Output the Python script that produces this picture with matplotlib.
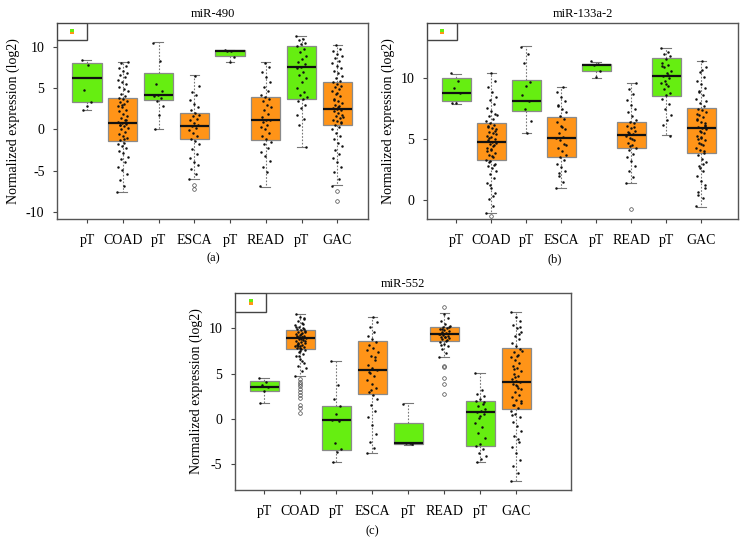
import matplotlib
matplotlib.use("Agg")
import matplotlib.pyplot as plt
from matplotlib.patches import Rectangle

plt.rcParams["font.family"] = ["Liberation Serif", "DejaVu Serif"]
plt.rcParams["axes.unicode_minus"] = False

CATS = ["pT", "COAD", "pT", "ESCA", "pT", "READ", "pT", "GAC"]
GREEN = "#66EE11"
ORANGE = "#FF9418"
FACES = [GREEN, ORANGE] * 4

# ---- miR-490 ----
A_MED = [6.25, 0.81, 4.19, 0.44, 9.52, 1.13, 7.58, 2.50]
A_Q1 = [3.27, -1.45, 3.55, -1.21, 8.87, -1.29, 3.67, 0.52]
A_Q3 = [8.10, 3.87, 6.90, 2.02, 9.60, 3.95, 10.12, 5.73]
A_LO = [2.38, -7.58, 0.08, -5.97, 8.23, -6.94, -2.10, -6.77]
A_HI = [8.43, 8.23, 10.56, 6.57, 9.68, 8.15, 11.33, 10.24]
A_OUT = [[], [], [], [-6.7, -7.2], [], [], [], [-7.46, -8.7]]
A_POINTS = [
    [8.4, 7.8, 4.8, 3.3, 2.9, 2.4],
    [-7.6, -6.9, -6.1, -5.4, -4.9, -4.5, -4.0, -3.6, -3.3, -2.9, -2.6, -2.3, -2.0, -1.8, -1.6,
     -1.3, -1.0, -0.8, -0.5, -0.3, 0.0, 0.2, 0.4, 0.6, 0.7, 0.8, 0.9, 1.1, 1.4, 1.6, 1.9, 2.2,
     2.4, 2.7, 2.9, 3.1, 3.3, 3.5, 3.7, 3.8, 4.0, 4.3, 4.6, 4.9, 5.2, 5.5, 5.8, 6.0, 6.3, 6.6,
     6.9, 7.1, 7.4, 7.7, 8.0, 8.2, -1.1, 0.5, 1.2, 3.0],
    [10.5, 8.3, 5.5, 4.6, 4.2, 4.1, 3.8, 3.5, 2.8, 1.7, 0.1],
    [-6.0, -5.4, -4.8, -4.3, -3.9, -3.5, -3.0, -2.4, -1.8, -1.4, -1.1, -0.8, -0.4, -0.1, 0.2,
     0.4, 0.5, 0.8, 1.1, 1.3, 1.6, 1.8, 2.0, 2.3, 2.7, 3.1, 3.6, 4.2, 4.5, 5.3, 6.5],
    [9.6, 9.5, 9.5, 8.8, 8.2],
    [-6.9, -5.2, -4.5, -3.8, -3.2, -2.7, -2.2, -1.8, -1.5, -1.2, -0.8, -0.4, 0.0, 0.3, 0.6,
     0.9, 1.1, 1.2, 1.5, 1.9, 2.3, 2.7, 3.0, 3.4, 3.7, 3.9, 4.2, 4.7, 5.2, 5.8, 6.4, 7.0, 7.6, 8.1],
    [11.3, 11.0, 10.8, 10.5, 10.3, 10.1, 9.8, 9.4, 8.9, 8.5, 8.2, 7.9, 7.6, 7.5, 7.0, 6.6,
     6.2, 5.8, 5.0, 4.5, 4.2, 3.9, 3.7, 3.4, 3.0, 2.6, 1.8, 1.3, 0.5, -2.1],
    [-6.8, -6.0, -5.2, -4.6, -4.0, -3.5, -3.0, -2.5, -2.0, -1.6, -1.2, -0.8, -0.4, 0.0, 0.3,
     0.6, 0.8, 1.0, 1.2, 1.4, 1.6, 1.8, 2.0, 2.2, 2.4, 2.5, 2.6, 2.8, 3.0, 3.2, 3.4, 3.7, 4.0,
     4.3, 4.6, 4.9, 5.1, 5.3, 5.5, 5.7, 5.9, 6.2, 6.5, 6.8, 7.1, 7.4, 7.7, 8.0, 8.3, 8.6, 8.9,
     9.2, 9.5, 9.8, 10.2, 1.5, 2.7, 3.6, 0.9, 4.4],
]

# ---- miR-133a-2 ----
B_MED = [8.79, 4.77, 8.11, 5.12, 11.10, 5.37, 10.22, 5.89]
B_Q1 = [8.11, 3.26, 7.34, 3.53, 10.58, 4.27, 8.52, 3.89]
B_Q3 = [10.00, 6.30, 9.86, 6.82, 11.15, 6.44, 11.67, 7.53]
B_LO = [7.92, -1.10, 5.51, 0.99, 10.05, 1.42, 5.32, -0.55]
B_HI = [10.36, 10.44, 12.66, 9.29, 11.37, 9.59, 12.47, 11.42]
B_OUT = [[], [-1.3], [], [], [], [-0.74], [], []]
B_POINTS = [
    [10.4, 9.8, 9.2, 8.8, 8.0, 7.95],
    [-1.1, -0.5, 0.1, 0.6, 1.0, 1.4, 1.8, 2.1, 2.4, 2.6, 2.8, 3.0, 3.2, 3.3, 3.5, 3.7, 3.9,
     4.1, 4.3, 4.5, 4.6, 4.7, 4.8, 4.9, 5.0, 5.2, 5.3, 5.5, 5.6, 5.8, 5.9, 6.0, 6.2, 6.3, 6.5,
     6.7, 6.9, 7.1, 7.3, 7.6, 7.9, 8.2, 8.5, 8.9, 9.3, 9.8, 10.4, 4.0, 4.4, 5.1, 5.4, 3.6,
     6.1, 2.9, 1.2, 7.0, 0.3, 3.1, 5.7, 4.2],
    [12.6, 12.0, 11.3, 9.7, 9.4, 8.6, 8.1, 7.5, 6.5, 5.5],
    [1.0, 1.5, 2.0, 2.4, 2.7, 3.0, 3.3, 3.5, 3.7, 4.0, 4.3, 4.6, 4.9, 5.1, 5.2, 5.5, 5.8,
     6.1, 6.4, 6.7, 6.9, 7.2, 7.5, 7.8, 8.1, 8.5, 8.9, 9.3, 2.2, 4.5, 6.0, 7.7],
    [11.4, 11.2, 11.1, 10.6, 10.1],
    [1.4, 1.9, 2.4, 2.8, 3.2, 3.5, 3.8, 4.1, 4.3, 4.5, 4.7, 4.9, 5.1, 5.3, 5.4, 5.5, 5.7,
     5.9, 6.1, 6.3, 6.4, 6.6, 6.9, 7.2, 7.5, 7.8, 8.2, 8.7, 9.1, 9.6, 5.0, 5.6, 6.0, 4.4],
    [12.5, 12.2, 12.0, 11.8, 11.6, 11.3, 11.1, 10.9, 10.6, 10.4, 10.2, 10.0, 9.8, 9.6, 9.4,
     9.1, 8.8, 8.6, 8.3, 7.9, 7.5, 7.0, 6.6, 6.2, 5.3, 9.5, 11.0, 10.3],
    [-0.5, 0.2, 0.7, 1.2, 1.6, 2.0, 2.4, 2.8, 3.1, 3.4, 3.7, 3.9, 4.1, 4.3, 4.5, 4.7, 4.9,
     5.1, 5.3, 5.5, 5.7, 5.8, 5.9, 6.0, 6.2, 6.4, 6.6, 6.8, 7.0, 7.2, 7.4, 7.5, 7.7, 8.0, 8.3,
     8.6, 8.9, 9.2, 9.5, 9.8, 10.1, 10.5, 10.9, 11.4, 5.0, 6.3, 4.6, 7.1, 3.0, 9.0, 1.0, 5.6,
     6.7, 4.0, 2.6, 8.1, 10.7, 0.4, 6.1, 5.2],
]

# ---- miR-552 ----
C_MED = [3.57, 8.90, -0.15, 5.40, -2.68, 9.38, 0.81, 4.12]
C_Q1 = [3.05, 7.72, -3.46, 2.76, -2.76, 8.64, -2.94, 1.10]
C_Q3 = [4.19, 9.78, 1.43, 8.57, -0.44, 10.11, 2.02, 7.79]
C_LO = [1.73, 4.71, -4.78, -3.79, -2.85, 6.80, -4.74, -6.84]
C_HI = [4.56, 11.62, 6.43, 11.29, 1.73, 11.65, 5.07, 11.80]
C_OUT = [[], [4.4, 4.1, 3.9, 3.6, 3.3, 3.0, 2.7, 2.3, 1.6, 1.2, 0.7], [], [], [],
         [12.4, 5.8, 5.7, 4.5, 3.9, 2.76], [], []]
C_POINTS = [
    [4.5, 4.1, 3.7, 3.5, 3.1, 1.8],
    [4.7, 5.3, 5.8, 6.2, 6.6, 6.9, 7.2, 7.4, 7.6, 7.7, 7.8, 7.9, 8.0, 8.1, 8.2, 8.3, 8.4,
     8.5, 8.6, 8.7, 8.8, 8.9, 9.0, 9.1, 9.2, 9.3, 9.4, 9.5, 9.6, 9.7, 9.8, 9.9, 10.0, 10.2,
     10.4, 10.6, 10.8, 11.0, 11.3, 11.6, 8.9, 9.1, 8.6, 9.4, 8.2, 9.9, 7.5, 10.1, 6.4, 8.0,
     9.6, 8.8, 9.2, 10.5, 7.0, 5.6, 9.0, 8.4, 11.1, 7.8],
    [6.4, 3.8, 2.2, 1.4, 0.6, -0.1, -0.2, -2.6, -3.3, -3.6, -4.7],
    [-3.8, -3.2, -2.5, -1.6, -0.7, 0.2, 0.9, 1.6, 2.2, 2.7, 3.0, 3.4, 3.9, 4.3, 4.7, 5.1,
     5.4, 5.6, 6.0, 6.5, 7.0, 7.4, 7.8, 8.2, 8.5, 8.8, 9.2, 9.6, 10.1, 10.7, 11.3, 5.2, 6.8,
     3.2, 7.6],
    [1.7, -2.6, -2.7, -2.8],
    [6.8, 7.3, 7.7, 8.0, 8.3, 8.5, 8.7, 8.8, 8.9, 9.0, 9.1, 9.2, 9.3, 9.4, 9.5, 9.6, 9.7,
     9.8, 9.9, 10.0, 10.1, 10.3, 10.5, 10.8, 11.1, 11.6, 9.35, 8.6, 9.9, 10.2, 9.1, 8.2],
    [5.1, 3.2, 2.8, 2.5, 2.2, 2.0, 1.7, 1.4, 1.1, 0.9, 0.8, 0.5, 0.1, -0.4, -0.9, -1.5,
     -2.1, -2.8, -3.0, -3.3, -3.7, -4.1, -4.4, -4.7, 1.9, 0.3],
    [-6.8, -6.0, -5.2, -4.5, -3.8, -3.1, -2.5, -1.9, -1.3, -0.8, -0.3, 0.2, 0.6, 0.9, 1.2,
     1.5, 1.8, 2.1, 2.4, 2.7, 3.0, 3.3, 3.6, 3.9, 4.1, 4.2, 4.4, 4.7, 5.0, 5.3, 5.6, 5.9, 6.2,
     6.5, 6.8, 7.1, 7.4, 7.7, 8.0, 8.4, 8.8, 9.2, 9.6, 10.0, 10.4, 10.8, 11.2, 11.8, 3.4, 5.5,
     2.0, 6.9, 0.4, 9.4, 4.6, 7.5, -2.2, 1.6, 10.2, 3.8],
]


def draw_panel(ax, title, med, q1, q3, lo, hi, out, points, ylim, xlim, yticks, legend_w, legend_h):
    stats = []
    for i in range(len(CATS)):
        stats.append({"med": med[i], "q1": q1[i], "q3": q3[i],
                      "whislo": lo[i], "whishi": hi[i], "fliers": out[i]})
    pos = list(range(1, len(CATS) + 1))
    bp = ax.bxp(stats, positions=pos, widths=0.82, patch_artist=True, capwidths=0.25,
                boxprops=dict(edgecolor="#8a8a8a", linewidth=0.9),
                medianprops=dict(color="#111111", linewidth=1.6),
                whiskerprops=dict(color="#777777", linewidth=0.8, linestyle=(0, (1.5, 1.5))),
                capprops=dict(color="#777777", linewidth=0.8),
                flierprops=dict(marker="o", markerfacecolor="none", markeredgecolor="#444444",
                                markersize=2.6, markeredgewidth=0.5))
    for patch, col in zip(bp["boxes"], FACES):
        patch.set_facecolor(col)
        patch.set_zorder(1)

    # jittered dots
    for i, vals in enumerate(points):
        xs = [pos[i] + ((k * 0.618034) % 1 - 0.5) * 0.3 for k in range(len(vals))]
        ax.scatter(xs, vals, s=3.2, color="#111111", zorder=3, linewidths=0)

    ax.set_xlim(*xlim)
    ax.set_ylim(*ylim)
    ax.set_xticks(pos)
    ax.set_xticklabels(CATS)
    ax.set_yticks(yticks)
    ax.tick_params(axis="both", labelsize=10, length=3, width=0.8, color="#444444", pad=6)
    ax.tick_params(axis="x", pad=8)
    for sp in ax.spines.values():
        sp.set_color("#555555")
        sp.set_linewidth(1.0)
    ax.set_ylabel("Normalized expression (log2)", fontsize=10, labelpad=4)
    ax.set_title(title, fontsize=9, pad=4)

    # small legend box in the top-left corner
    ax.add_patch(Rectangle((0, 1 - legend_h), legend_w, legend_h, transform=ax.transAxes,
                           facecolor="white", edgecolor="#444444", linewidth=1.0, zorder=5))
    ax.add_patch(Rectangle((legend_w * 0.44, 1 - legend_h * 0.5), legend_w * 0.14, legend_h * 0.16,
                           transform=ax.transAxes, facecolor=GREEN, edgecolor="none", zorder=6))
    ax.add_patch(Rectangle((legend_w * 0.44, 1 - legend_h * 0.66), legend_w * 0.14, legend_h * 0.16,
                           transform=ax.transAxes, facecolor=ORANGE, edgecolor="none", zorder=6))


fig = plt.figure(figsize=(7.4, 5.57), dpi=100)

ax_a = fig.add_axes([57 / 740, 1 - 219 / 557, 311 / 740, 196 / 557])
draw_panel(ax_a, "miR-490", A_MED, A_Q1, A_Q3, A_LO, A_HI, A_OUT, A_POINTS,
           (-10.85, 12.9), (0.16, 8.86), [-10, -5, 0, 5, 10], 0.097, 0.087)

ax_b = fig.add_axes([427 / 740, 1 - 219 / 557, 311 / 740, 196 / 557])
draw_panel(ax_b, "miR-133a-2", B_MED, B_Q1, B_Q3, B_LO, B_HI, B_OUT, B_POINTS,
           (-1.56, 14.55), (0.16, 9.05), [0, 5, 10], 0.097, 0.087)

ax_c = fig.add_axes([235 / 740, 1 - 490 / 557, 336 / 740, 197 / 557])
draw_panel(ax_c, "miR-552", C_MED, C_Q1, C_Q3, C_LO, C_HI, C_OUT, C_POINTS,
           (-7.83, 13.9), (0.18, 9.52), [-5, 0, 5, 10], 0.092, 0.095)

fig.text(213 / 740, 1 - 258 / 557, "(a)", ha="center", va="center", fontsize=9)
fig.text(555 / 740, 1 - 259 / 557, "(b)", ha="center", va="center", fontsize=9)
fig.text(372 / 740, 1 - 531 / 557, "(c)", ha="center", va="center", fontsize=9)

fig.savefig("out.png", dpi=100)
